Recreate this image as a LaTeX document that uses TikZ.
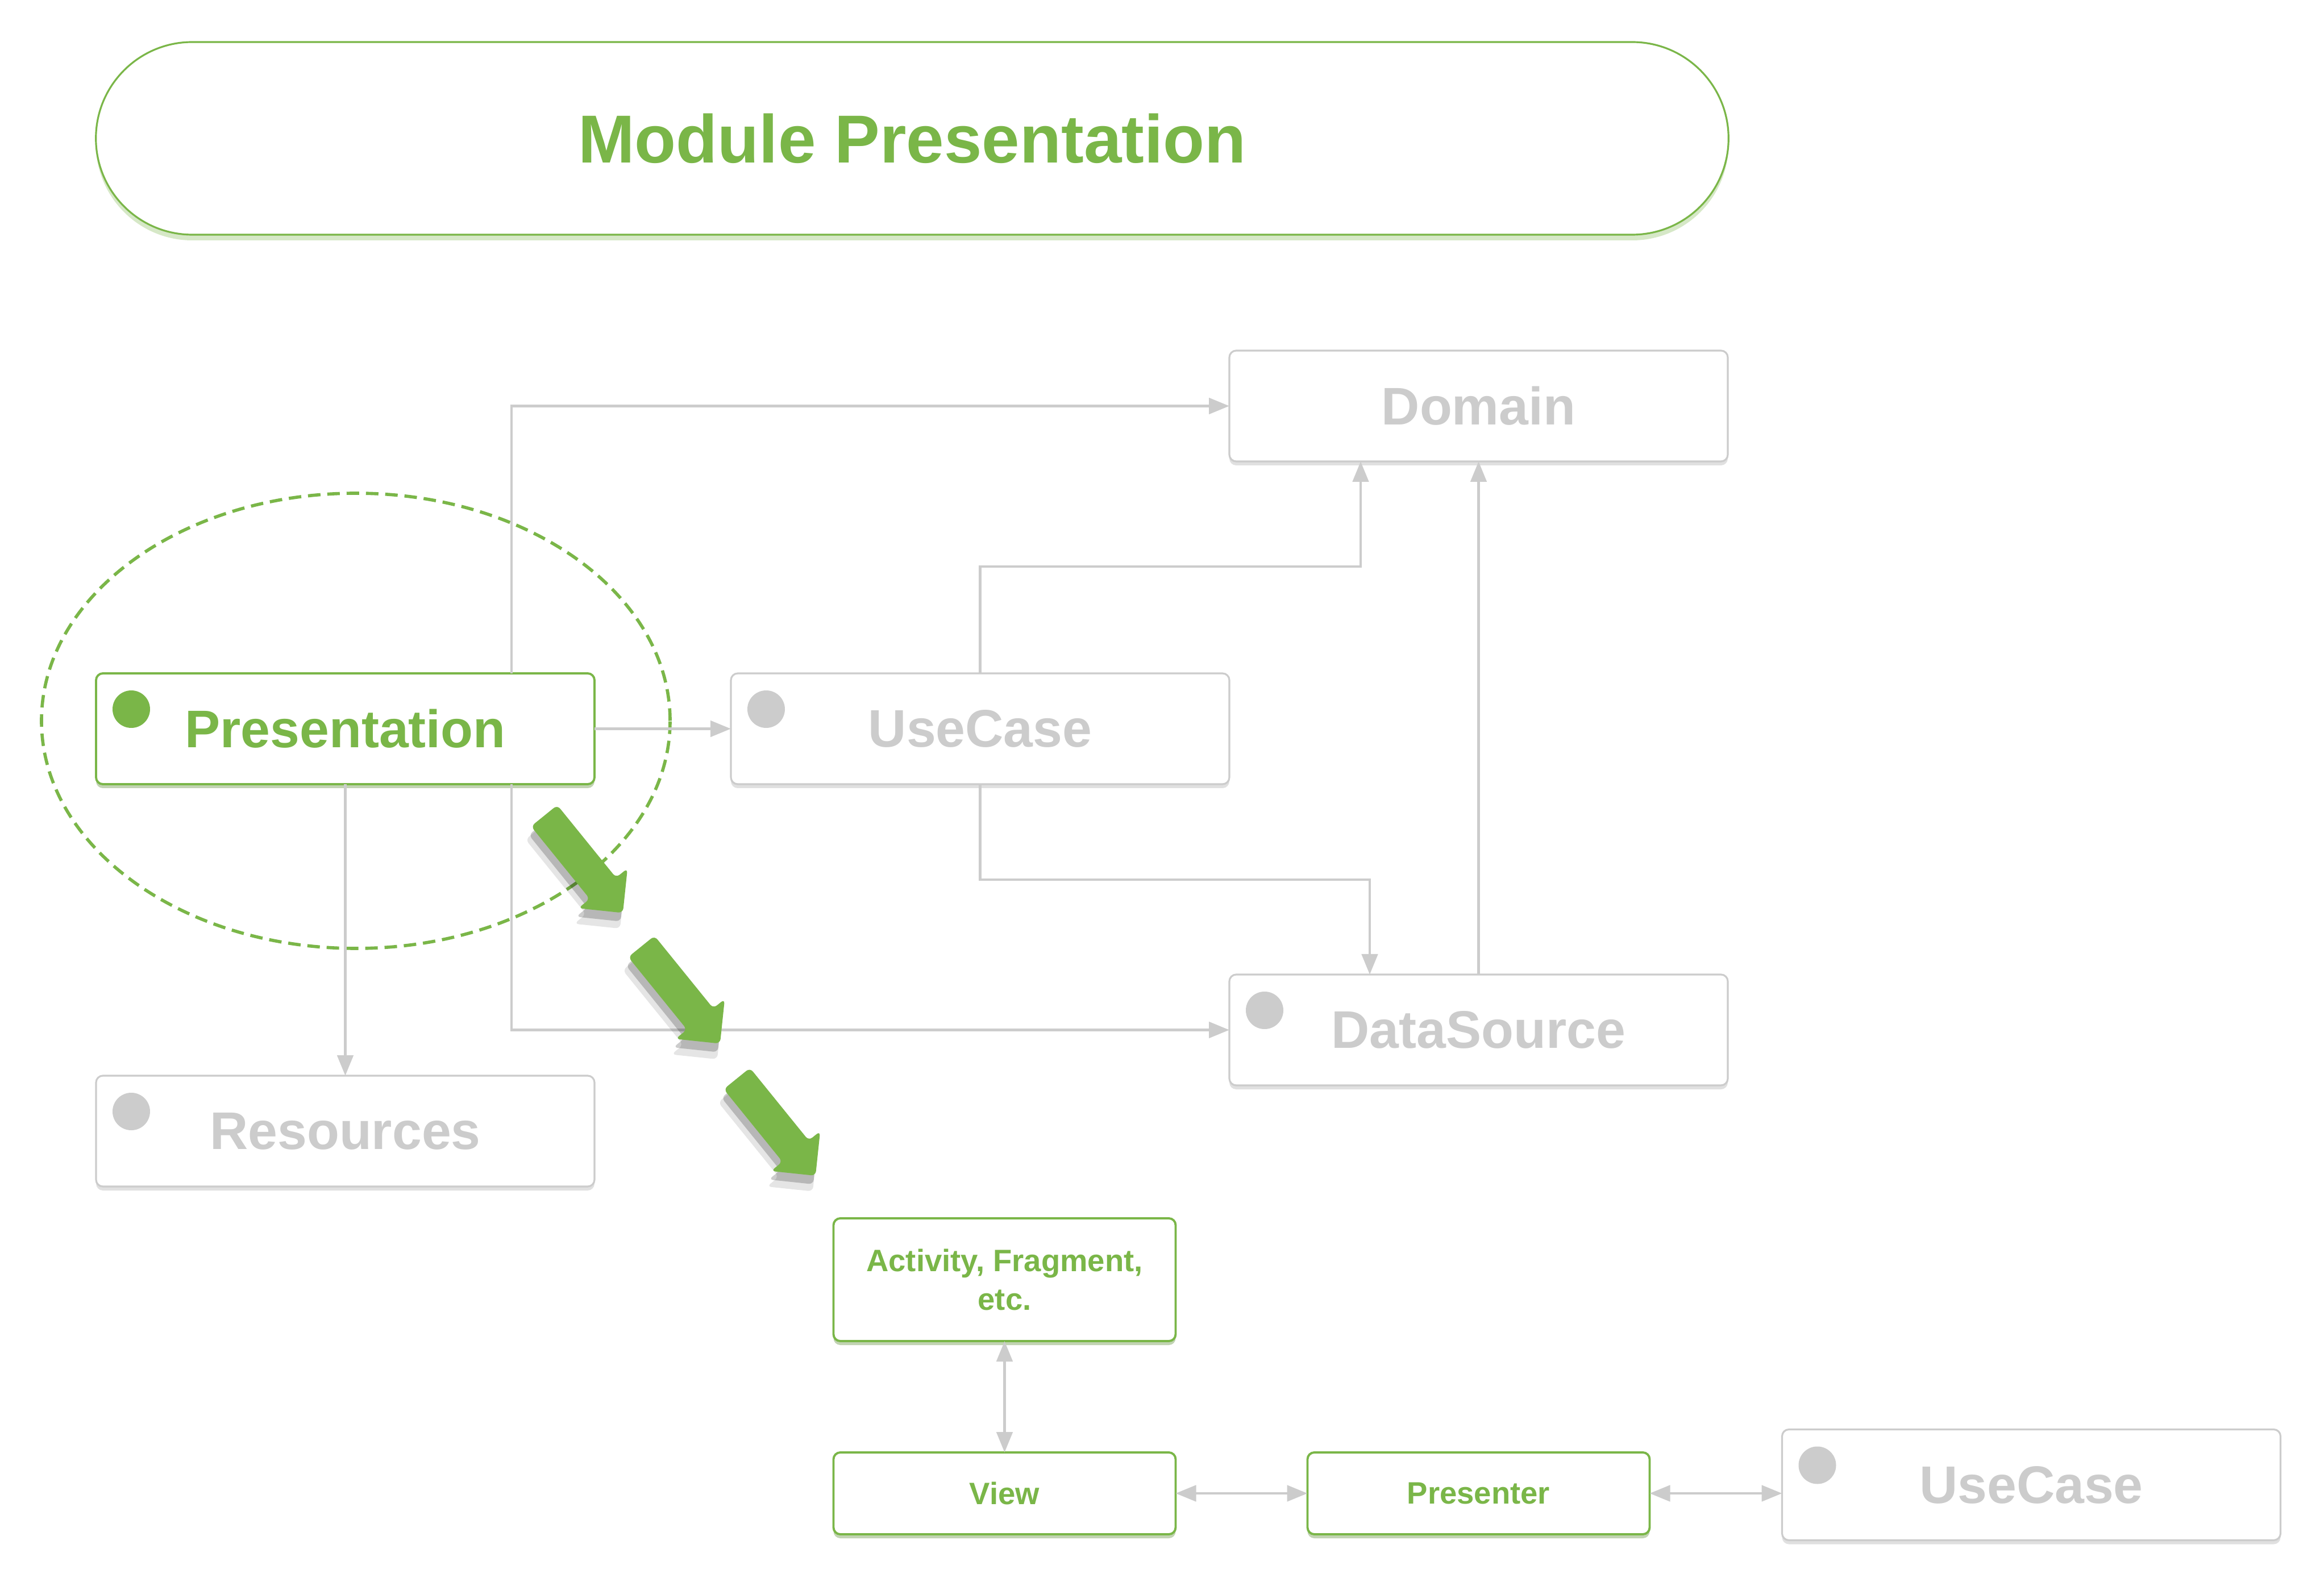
\documentclass[tikz,border=0pt]{standalone}
\usepackage{fontspec}
\setmainfont{Liberation Sans}
\usetikzlibrary{arrows.meta,positioning,shapes.geometric,shapes.misc,shapes.arrows,shadows,calc}
\definecolor{green}{HTML}{7AB648}
\definecolor{linegray}{HTML}{CCCCCC}
\tikzset{
  every node/.style={font=\bfseries},
  box/.style={draw=linegray, rounded corners=0.12cm, line width=0.9pt, outer sep=0pt, fill=white, text=linegray, minimum width=8.77cm, minimum height=1.95cm, font=\bfseries\fontsize{26.5}{32}\selectfont, drop shadow={fill=black, opacity=0.12, shadow xshift=0cm, shadow yshift=-0.07cm}},
  greenbox/.style={box, draw=green, line width=1.1pt, text=green, drop shadow={fill=green, opacity=0.3, shadow xshift=0cm, shadow yshift=-0.07cm}},
  smallbox/.style={greenbox, minimum width=6.02cm, minimum height=1.44cm, align=center, font=\bfseries\fontsize{15.5}{19.3}\selectfont},
  dotbox/.style={path picture={\fill[#1] ([shift={(0.62,-0.63)}]path picture bounding box.north west) circle (0.33);}},
  title/.style={rounded rectangle, draw=green, line width=0.9pt, fill=white, text=green, minimum width=28.96cm, minimum height=3.39cm, font=\bfseries\fontsize{34}{40}\selectfont, drop shadow={fill=green, opacity=0.3, shadow xshift=0cm, shadow yshift=-0.1cm}},
  focus/.style={ellipse, draw=green, line width=1.6pt, dash pattern=on 0.22cm off 0.12cm, minimum width=11.06cm, minimum height=8.01cm, inner sep=0pt},
  bigarrow/.style={single arrow, single arrow tip angle=90, single arrow head extend=0.26cm, inner sep=0.29cm, minimum height=2.2cm, fill=green, draw=none, rounded corners=0.08cm, anchor=tail, rotate=-51,
    drop shadow={fill=black, opacity=0.1, shadow xshift=-0.07cm, shadow yshift=-0.24cm, shadow scale=1.03},
    drop shadow={fill=black, opacity=0.2, shadow xshift=-0.04cm, shadow yshift=-0.15cm}},
  arrow/.style={-{Triangle[length=0.36cm,width=0.28cm]}, line width=1.4pt, draw=linegray},
  twoway/.style={{Triangle[length=0.36cm,width=0.28cm]}-{Triangle[length=0.36cm,width=0.28cm]}, line width=1.4pt, draw=linegray},
}
\begin{document}
\begin{tikzpicture}
\fill[white] (0,0) rectangle (40.89,-27.84);
\useasboundingbox (0,0) rectangle (40.89,-27.84);
\node[title] (t) at (16.05,-2.435) {Module Presentation};
\node[focus] (zone) at (6.26,-12.685) {};
\node[greenbox, dotbox=green] (pres) at (6.075,-12.825) {Presentation};
\node[box, dotbox=linegray, right=2.4cm of pres] (uc) {UseCase};
\node[box, above right=3.73cm and 0cm of uc.north east] (dom) {Domain};
\node[box, dotbox=linegray, below right=3.35cm and 0cm of uc.south east] (ds) {DataSource};
\node[box, dotbox=linegray, below=5.13cm of pres] (res) {Resources};
\node[smallbox, minimum height=2.16cm, below=7.64cm of uc, xshift=0.43cm] (act) {Activity, Fragment,\\etc.};
\node[smallbox, below=1.96cm of act] (view) {View};
\node[smallbox, right=2.32cm of view] (presenter) {Presenter};
\node[box, dotbox=linegray, right=2.33cm of presenter, yshift=0.15cm] (uc2) {UseCase};
\draw[arrow] ([xshift=2.925cm]pres.north) |- (dom.west);
\draw[arrow] ([xshift=2.925cm]pres.south) |- (ds.west);
\draw[arrow] (pres) -- (uc);
\draw[arrow] (pres) -- (res);
\draw[arrow] (uc.north) -- ++(0,1.88) -| ([xshift=-2.075cm]dom.south);
\draw[arrow] (uc.south) -- ++(0,-1.68) -| ([xshift=-1.915cm]ds.north);
\draw[arrow] (ds) -- (dom);
\draw[twoway] (act) -- (view);
\draw[twoway] (view) -- (presenter);
\draw[twoway] (presenter.east) -- (uc2.west |- presenter.east);
\node[bigarrow] (arr1) at (9.57,-14.35) {};
\node[bigarrow] (arr2) at (11.28,-16.65) {};
\node[bigarrow] (arr3) at (12.96,-18.975) {};
\end{tikzpicture}
\end{document}
